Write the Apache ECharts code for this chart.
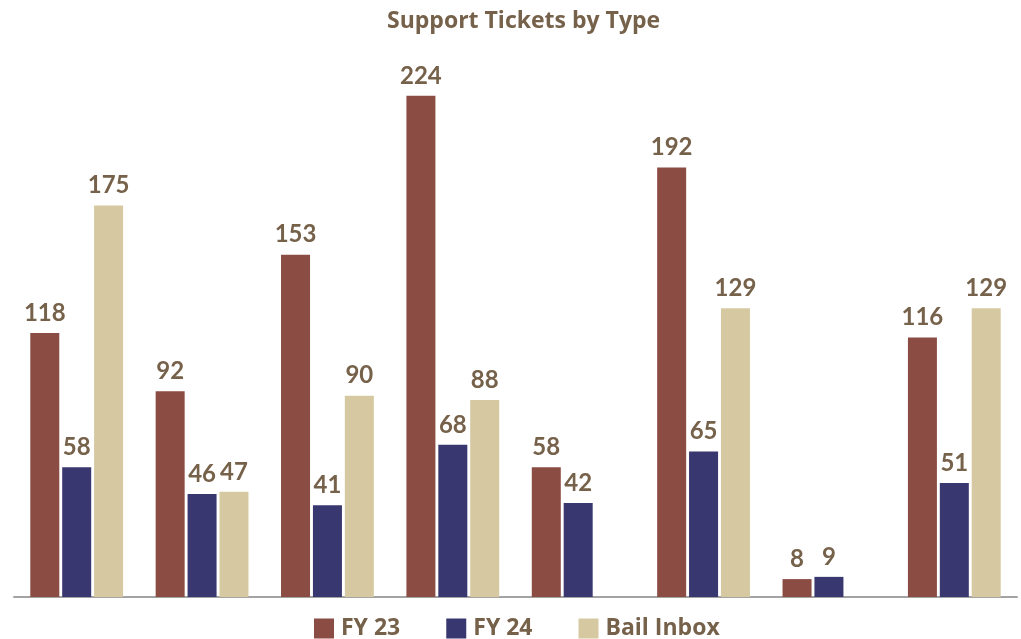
<!DOCTYPE html>
<html>
<head>
<meta charset="utf-8">
<script src="https://cdn.jsdelivr.net/npm/echarts@6/dist/echarts.min.js"></script>
<style>
  html, body { margin: 0; padding: 0; background: #ffffff; }
  #chart { width: 1021px; height: 639px; }
</style>
</head>
<body>
<div id="chart"></div>
<script>
// Ticket categories (unlabelled on the axis)
const categories = ['A', 'B', 'C', 'D', 'E', 'F', 'G', 'H'];
const fy23 = [118, 92, 153, 224, 58, 192, 8, 116];
const fy24 = [58, 46, 41, 68, 42, 65, 9, 51];
const bailInbox = [175, 47, 90, 88, null, 129, null, 129];

const textColor = '#76614a';
const labelFont = 'Lato, "Open Sans", sans-serif';
const headFont = '"Open Sans", Lato, sans-serif';

const chart = echarts.init(document.getElementById('chart'));

function barSeries(name, data, color) {
  return {
    name: name,
    type: 'bar',
    data: data,
    barWidth: 29,
    barGap: '10%',
    itemStyle: { color: color },
    label: {
      show: true,
      position: 'top',
      distance: 8,
      color: textColor,
      fontFamily: labelFont,
      fontWeight: 'bold',
      fontSize: 24
    }
  };
}

chart.setOption({
  animation: false,
  title: {
    text: 'Support Tickets by Type',
    left: 382,
    top: 5,
    textStyle: {
      color: textColor,
      fontFamily: headFont,
      fontWeight: 'bold',
      fontSize: 23
    }
  },
  legend: {
    top: 612,
    left: 309,
    itemWidth: 20,
    itemHeight: 20,
    itemGap: 46,
    icon: 'rect',
    textStyle: {
      color: textColor,
      fontFamily: headFont,
      fontWeight: 'bold',
      fontSize: 23,
      padding: [0, 0, 0, 2]
    },
    data: ['FY 23', 'FY 24', 'Bail Inbox']
  },
  grid: { left: 14, right: 4, top: 60, bottom: 42, containLabel: false },
  xAxis: {
    type: 'category',
    data: categories,
    axisLine: { show: true, lineStyle: { color: '#a3a3a3', width: 2 } },
    axisTick: { show: false },
    axisLabel: { show: false }
  },
  yAxis: {
    type: 'value',
    min: 0,
    max: 240,
    show: false,
    splitLine: { show: false }
  },
  series: [
    barSeries('FY 23', fy23, '#8b4c43'),
    barSeries('FY 24', fy24, '#38376f'),
    barSeries('Bail Inbox', bailInbox, '#d6c9a1')
  ]
});
</script>
</body>
</html>
